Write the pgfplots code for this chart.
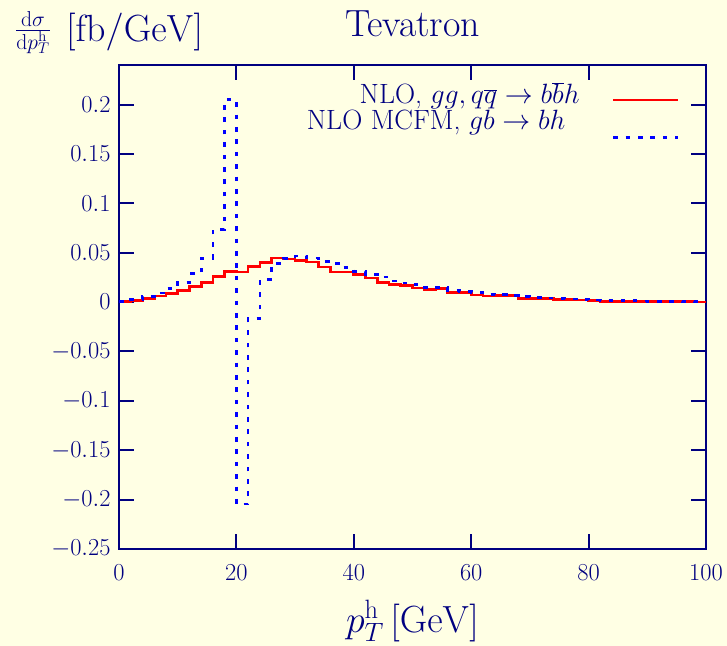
\RequirePackage{fix-cm}
\documentclass[border=0pt]{standalone}
\usepackage{pgfplots}
\pgfplotsset{compat=1.18}
\usetikzlibrary{calc,backgrounds}
\definecolor{bgc}{RGB}{255,255,228}
\definecolor{navyc}{RGB}{0,0,128}
\definecolor{redc}{RGB}{255,0,0}
\definecolor{bluec}{RGB}{0,0,255}
\pgfplotstableread{
x y
0 0.0005
2 0.0017
4 0.0037
6 0.0060
8 0.0089
10 0.0119
12 0.0160
14 0.0200
16 0.0262
18 0.0307
20 0.0303
22 0.0360
24 0.0402
26 0.0447
28 0.0437
30 0.0420
32 0.0405
34 0.0355
36 0.0303
38 0.0303
40 0.0278
42 0.0245
44 0.0197
46 0.0181
48 0.0166
50 0.0142
52 0.0124
54 0.0136
56 0.0100
58 0.0100
60 0.0072
62 0.0060
64 0.0064
66 0.0067
68 0.0039
70 0.0039
72 0.0036
74 0.0025
76 0.0025
78 0.0022
80 0.0015
82 0.0009
84 0.0009
86 0.0007
88 0.0007
90 0.0006
92 0.0005
94 0.0004
96 0.0003
98 0.0002
100 0.0002
}\redtab
\pgfplotstableread{
x y
0 0.0005
2 0.0028
4 0.0058
6 0.0093
8 0.0140
10 0.0200
12 0.0288
14 0.0443
16 0.0735
18 0.2052
20 -0.2045
22 -0.0166
24 0.0231
26 0.0390
28 0.0443
30 0.0467
32 0.0445
34 0.0412
36 0.0390
38 0.0350
40 0.0312
42 0.0282
44 0.0255
46 0.0214
48 0.0193
50 0.0180
52 0.0150
54 0.0146
56 0.0115
58 0.0105
60 0.0099
62 0.0080
64 0.0075
66 0.0065
68 0.0055
70 0.0048
72 0.0041
74 0.0038
76 0.0031
78 0.0028
80 0.0021
82 0.0019
84 0.0018
86 0.0015
88 0.0012
90 0.0009
92 0.0007
94 0.0006
96 0.0004
98 0.0003
100 0.0003
}\bluetab
\newcommand\legfont{\fontsize{28}{33}\selectfont}
\newcommand\redtext{NLO, $gg,q\overline{q}\rightarrow b\overline{b}h$}
\newcommand\bluetext{NLO MCFM, $gb\rightarrow bh$}
\pgfplotsset{
  bothleg/.style={legend image code/.code={%
    \draw[redc, line width=2.7bp] (0bp,0bp) -- (65bp,0bp);
    \node[anchor=base east, text=navyc, font=\legfont, inner sep=0pt] at (-32.3bp,-3.6bp) {\redtext};
    \draw[bluec, line width=2.7bp, dash pattern=on 4.6bp off 7.8bp] (0bp,-37.6bp) -- (65bp,-37.6bp);
    \node[anchor=base east, text=navyc, font=\legfont, inner sep=0pt] at (-46.4bp,-29.3bp) {\bluetext};}},
}
\begin{document}
\begin{tikzpicture}
\begin{axis}[
  scale only axis,
  width=587bp, height=484bp,
  xmin=0, xmax=100, ymin=-0.25, ymax=0.24,
  xtick={0,20,40,60,80,100},
  ytick={-0.25,-0.2,-0.15,-0.1,-0.05,0,0.05,0.1,0.15,0.2},
  scaled y ticks=false,
  y tick label style={/pgf/number format/fixed, /pgf/number format/precision=2},
  tick label style={font=\fontsize{24.5}{29}\selectfont, text=navyc},
  xticklabel style={yshift=-12bp},
  yticklabel style={xshift=-5bp},
  tick align=inside,
  major tick length=15bp,
  minor tick num=0,
  every tick/.style={navyc, line width=2bp},
  axis line style={navyc, line width=2.5bp},
  clip=false,
  title={Tevatron},
  title style={at={(0.5,1.0723)}, anchor=center, font=\fontsize{38}{44}\selectfont, text=navyc},
  xlabel={$p_T^{\mathrm{h}}\,[\mathrm{GeV}]$},
  xlabel style={at={(0.5,-0.149)}, anchor=center, font=\fontsize{38}{44}\selectfont, text=navyc},
  legend style={draw=none, fill=none, at={(0.957,0.965)}, anchor=north east,
    font=\legfont, text=navyc, inner sep=0pt, nodes={inner sep=0pt}},
]
\addplot[const plot mark left, redc, line width=2.7bp, bothleg] table[x=x,y=y] {\redtab};
\addlegendentry{}
\addplot[const plot mark left, bluec, line width=2.7bp, dash pattern=on 4.6bp off 7.8bp] table[x=x,y=y] {\bluetab};
\coordinate (sw) at (rel axis cs:0,0);
\coordinate (ne) at (rel axis cs:1,1);
\node[anchor=west, text=navyc, font=\fontsize{31}{37}\selectfont, inner sep=0pt] at (rel axis cs:-0.1772,1.0671)
  {$\frac{\mathrm{d}\sigma}{\mathrm{d}p_T^{\mathrm{h}}}$};
\node[anchor=west, text=navyc, font=\fontsize{38}{44}\selectfont, inner sep=0pt] at (rel axis cs:-0.0903,1.0671)
  {$[\mathrm{fb/GeV}]$};
\end{axis}
\begin{scope}[on background layer]
\fill[bgc] ($(sw)+(-119bp,-97bp)$) rectangle ($(ne)+(21bp,65bp)$);
\end{scope}
\end{tikzpicture}
\end{document}
